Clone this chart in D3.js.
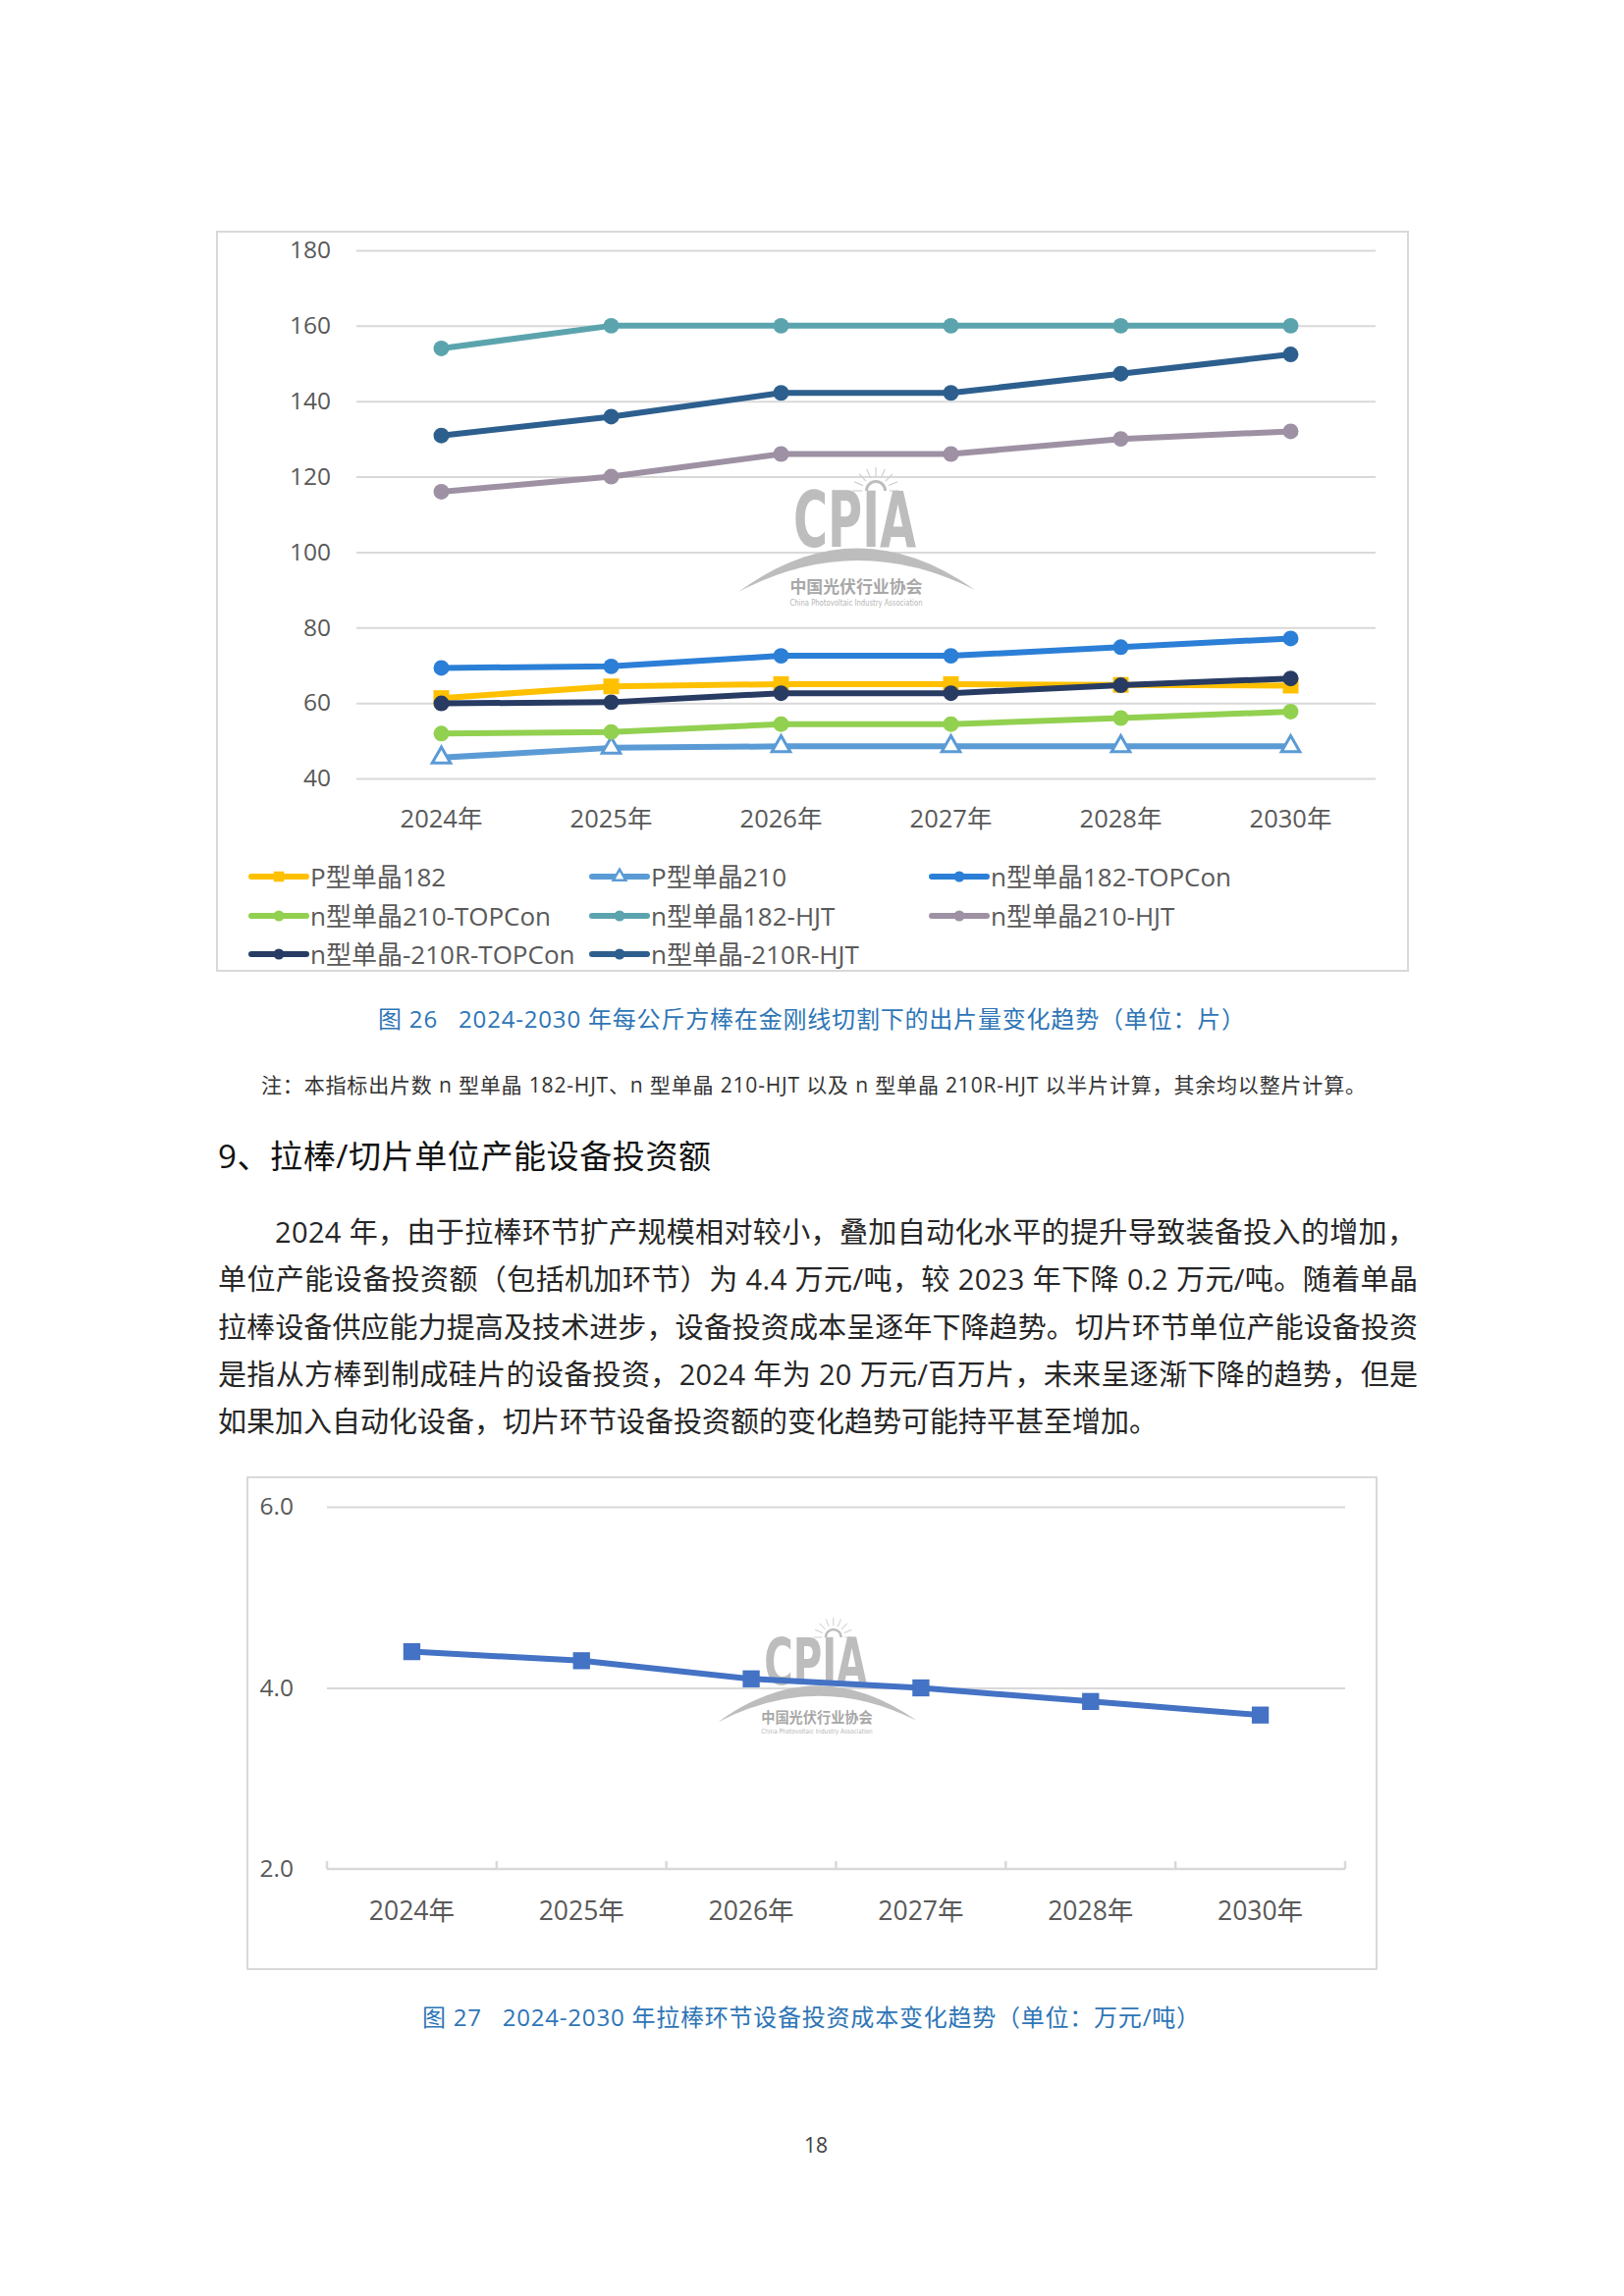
<!DOCTYPE html>
<html>
<head>
<meta charset="utf-8">
<script src="https://cdn.jsdelivr.net/npm/d3@7"></script>
<style>
html,body{margin:0;padding:0;background:#fff;}
svg{display:block;}
</style>
</head>
<body>
<script>
// ---------- DATA ----------
const years = ["2024年","2025年","2026年","2027年","2028年","2030年"];
const seriesNames = ["P型单晶182","P型单晶210","n型单晶182-TOPCon","n型单晶210-TOPCon","n型单晶182-HJT","n型单晶210-HJT","n型单晶-210R-TOPCon","n型单晶-210R-HJT"];
const p182 = [61.3, 64.4, 65.0, 65.0, 64.8, 64.6];
const p210 = [45.5, 48.1, 48.5, 48.5, 48.5, 48.5];
const n182TOPCon = [69.3, 69.7, 72.5, 72.5, 74.8, 77.1];
const n210TOPCon = [51.9, 52.3, 54.4, 54.4, 56.0, 57.7];
const n182HJT = [154, 160, 160, 160, 160, 160];
const n210HJT = [116, 120, 126, 126, 130, 132];
const n210RTOPCon = [59.9, 60.2, 62.6, 62.6, 64.7, 66.5];
const n210RHJT = [130.9, 135.9, 142.2, 142.2, 147.3, 152.4];
const yTicks1 = [40, 60, 80, 100, 120, 140, 160, 180];

const invest = [4.4, 4.3, 4.1, 4.0, 3.85, 3.7];
const yTicks2 = [2.0, 4.0, 6.0];

const seriesValues = [p182, p210, n182TOPCon, n210TOPCon, n182HJT, n210HJT, n210RTOPCon, n210RHJT];
const seriesColors = ["#FFC000","#5B9BD5","#2B7FD6","#92D050","#5BA4AE","#9E91A4","#283B63","#2D5F8E"];
const seriesMarkers = ["square","triangle","circle","circle","circle","circle","circle","circle"];

const caption1 = "图 26   2024-2030 年每公斤方棒在金刚线切割下的出片量变化趋势（单位：片）";
const note1 = "注：本指标出片数 n 型单晶 182-HJT、n 型单晶 210-HJT 以及 n 型单晶 210R-HJT 以半片计算，其余均以整片计算。";
const heading = "9、拉棒/切片单位产能设备投资额";
const paragraph = [
  "2024 年，由于拉棒环节扩产规模相对较小，叠加自动化水平的提升导致装备投入的增加，",
  "单位产能设备投资额（包括机加环节）为 4.4 万元/吨，较 2023 年下降 0.2 万元/吨。随着单晶",
  "拉棒设备供应能力提高及技术进步，设备投资成本呈逐年下降趋势。切片环节单位产能设备投资",
  "是指从方棒到制成硅片的设备投资，2024 年为 20 万元/百万片，未来呈逐渐下降的趋势，但是",
  "如果加入自动化设备，切片环节设备投资额的变化趋势可能持平甚至增加。"
];
const caption2 = "图 27   2024-2030 年拉棒环节设备投资成本变化趋势（单位：万元/吨）";
const pageNumber = "18";

// ---------- SETUP ----------
const W = 1654, H = 2339;
const FONT = "'Open Sans','Noto Sans CJK SC','Noto Sans',sans-serif";
const CJK = "'Noto Sans CJK SC','Noto Sans',sans-serif";
const svg = d3.select("body").append("svg").attr("width", W).attr("height", H)
  .attr("viewBox", `0 0 ${W} ${H}`);
svg.append("rect").attr("width", W).attr("height", H).attr("fill", "#fff");

function markerPath(type, big) {
  if (type === "square") return d3.symbol(d3.symbolSquare, big ? 256 : 110)();
  if (type === "triangle") return d3.symbol(d3.symbolTriangle, big ? 150 : 70)();
  return d3.symbol(d3.symbolCircle, big ? 200 : 95)();
}

function watermark(g) {
  const col = "#BDBDBD";
  g.append("path").attr("d", d3.arc()({innerRadius: 8, outerRadius: 11, startAngle: -Math.PI/2, endAngle: Math.PI/2}))
    .attr("transform", "translate(892,500)").attr("fill", col);
  for (let i = 0; i <= 8; i++) {
    const a = Math.PI + i * Math.PI / 8;
    g.append("line")
      .attr("x1", 892 + 14 * Math.cos(a)).attr("y1", 500 + 14 * Math.sin(a))
      .attr("x2", 892 + 24 * Math.cos(a)).attr("y2", 500 + 24 * Math.sin(a))
      .attr("stroke", "#D0D0D0").attr("stroke-width", 1.2);
  }
  g.append("text").attr("x", 808).attr("y", 557).text("CPIA")
    .attr("font-family", "'Liberation Sans Narrow','DejaVu Sans Condensed',sans-serif")
    .attr("font-weight", "bold").attr("font-size", 78)
    .attr("textLength", 125).attr("lengthAdjust", "spacingAndGlyphs")
    .attr("fill", col);
  g.append("path")
    .attr("d", "M752,603 Q872,515 993,601 Q872,540 752,603 Z")
    .attr("fill", col);
  g.append("text").attr("x", 872).attr("y", 604).attr("text-anchor", "middle")
    .text("中国光伏行业协会").attr("font-family", CJK).attr("font-weight", "bold")
    .attr("font-size", 17).attr("fill", "#A8A8A8")
    .attr("textLength", 135).attr("lengthAdjust", "spacingAndGlyphs");
  g.append("text").attr("x", 872).attr("y", 617).attr("text-anchor", "middle")
    .text("China Photovoltaic Industry Association").attr("font-family", "'Liberation Sans Narrow','DejaVu Sans Condensed',sans-serif")
    .attr("font-size", 8).attr("fill", "#B5B5B5")
    .attr("textLength", 135).attr("lengthAdjust", "spacingAndGlyphs");
}

// ---------- CHART 1 ----------
const c1 = svg.append("g");
c1.append("rect").attr("x", 221).attr("y", 236).attr("width", 1213).attr("height", 753)
  .attr("fill", "#fff").attr("stroke", "#D9D9D9").attr("stroke-width", 2);

const x1 = d3.scaleBand().domain(years).range([363, 1401]);
const cx1 = d => x1(d) + x1.bandwidth() / 2;
const y1 = d3.scaleLinear().domain([40, 180]).range([793, 255]);

const yAxis1 = c1.append("g").attr("transform", "translate(363,0)")
  .call(d3.axisLeft(y1).tickValues(yTicks1).tickSize(-(1401 - 363)).tickPadding(26).tickFormat(d3.format("d")));
yAxis1.select(".domain").remove();
yAxis1.selectAll(".tick line").attr("stroke", "#D9D9D9").attr("stroke-width", 2);
yAxis1.selectAll(".tick text").attr("font-family", FONT).attr("font-size", 24.5).attr("fill", "#595959");

watermark(c1.append("g"));

c1.append("g").selectAll("text").data(years).join("text")
  .attr("x", d => cx1(d)).attr("y", 843).attr("text-anchor", "middle")
  .attr("font-family", FONT).attr("font-size", 25.5).attr("fill", "#595959").text(d => d);

const line1 = d3.line().x((d, i) => cx1(years[i])).y(d => y1(d));
seriesValues.forEach((vals, si) => {
  const g = c1.append("g");
  g.append("path").attr("d", line1(vals)).attr("fill", "none")
    .attr("stroke", seriesColors[si]).attr("stroke-width", 6).attr("stroke-linejoin", "round");
  g.selectAll("path.m").data(vals).join("path").attr("class", "m")
    .attr("d", markerPath(seriesMarkers[si], true))
    .attr("transform", (d, i) => `translate(${cx1(years[i])},${y1(d)})`)
    .attr("fill", seriesMarkers[si] === "triangle" ? "#fff" : seriesColors[si])
    .attr("stroke", seriesMarkers[si] === "triangle" ? seriesColors[si] : "none")
    .attr("stroke-width", 3);
});

// legend
const legCols = [256, 603, 949];
const legRows = [893, 933, 972];
seriesNames.forEach((name, si) => {
  const lx = legCols[si % 3], ly = legRows[Math.floor(si / 3)];
  const g = c1.append("g");
  g.append("line").attr("x1", lx).attr("x2", lx + 56).attr("y1", ly).attr("y2", ly)
    .attr("stroke", seriesColors[si]).attr("stroke-width", 6).attr("stroke-linecap", "round");
  g.append("path").attr("d", markerPath(seriesMarkers[si], false))
    .attr("transform", `translate(${lx + 28},${ly})`)
    .attr("fill", seriesMarkers[si] === "triangle" ? "#fff" : seriesColors[si])
    .attr("stroke", seriesMarkers[si] === "triangle" ? seriesColors[si] : "none")
    .attr("stroke-width", 2.5);
  g.append("text").attr("x", lx + 60).attr("y", ly + 9.5).text(name)
    .attr("font-family", FONT).attr("font-size", 26).attr("fill", "#595959");
});

// ---------- TEXT ----------
svg.append("text").attr("x", 385).attr("y", 1047).text(caption1)
  .style("white-space", "pre").attr("font-family", FONT).attr("font-size", 24).attr("fill", "#2E75B6")
  .attr("textLength", 883).attr("lengthAdjust", "spacing");
svg.append("text").attr("x", 266).attr("y", 1113).text(note1)
  .style("white-space", "pre").attr("font-family", FONT).attr("font-size", 21).attr("fill", "#333")
  .attr("textLength", 1125).attr("lengthAdjust", "spacing");
svg.append("text").attr("x", 222).attr("y", 1190).text(heading)
  .attr("font-family", FONT).attr("font-size", 33).attr("fill", "#111")
  .attr("textLength", 502).attr("lengthAdjust", "spacing");
const paraY = [1266, 1314, 1363, 1411, 1459];
paragraph.forEach((t, i) => {
  const tx = svg.append("text").attr("x", i === 0 ? 280 : 222).attr("y", paraY[i]).text(t)
    .style("white-space", "pre").attr("font-family", FONT).attr("font-size", 29).attr("fill", "#262626");
  if (i < 4) tx.attr("textLength", i === 0 ? 1162 : 1222).attr("lengthAdjust", "spacing");
});

// ---------- CHART 2 ----------
const c2 = svg.append("g");
c2.append("rect").attr("x", 252).attr("y", 1505).attr("width", 1150).attr("height", 501)
  .attr("fill", "#fff").attr("stroke", "#D9D9D9").attr("stroke-width", 2);
const x2 = d3.scaleBand().domain(years).range([333, 1370]);
const cx2 = d => x2(d) + x2.bandwidth() / 2;
const y2 = d3.scaleLinear().domain([2, 6]).range([1904, 1535]);

const yAxis2 = c2.append("g").attr("transform", "translate(333,0)")
  .call(d3.axisLeft(y2).tickValues(yTicks2).tickSize(-(1370 - 333)).tickPadding(34).tickFormat(d3.format(".1f")));
yAxis2.select(".domain").remove();
yAxis2.selectAll(".tick line").attr("stroke", (d) => d === 2 ? "none" : "#D9D9D9").attr("stroke-width", 2);
yAxis2.selectAll(".tick text").attr("font-family", FONT).attr("font-size", 24.5).attr("fill", "#595959");

const xAxis2 = c2.append("g").attr("transform", `translate(0,${y2(2)})`);
xAxis2.append("line").attr("x1", 333).attr("x2", 1370).attr("y1", 0).attr("y2", 0)
  .attr("stroke", "#D9D9D9").attr("stroke-width", 2.5);
const bounds = years.map(d => x2(d)).concat([x2(years[years.length - 1]) + x2.bandwidth()]);
xAxis2.selectAll("line.tk").data(bounds).join("line").attr("class", "tk")
  .attr("x1", d => d).attr("x2", d => d).attr("y1", 0).attr("y2", -8)
  .attr("stroke", "#D9D9D9").attr("stroke-width", 2.5);
c2.append("g").selectAll("text").data(years).join("text")
  .attr("x", d => cx2(d)).attr("y", 1956).attr("text-anchor", "middle")
  .attr("font-family", FONT).attr("font-size", 26.5).attr("fill", "#595959").text(d => d);

watermark(c2.append("g").attr("transform", "translate(99.5,1248) scale(0.84)"));

const line2 = d3.line().x((d, i) => cx2(years[i])).y(d => y2(d));
c2.append("path").attr("d", line2(invest)).attr("fill", "none")
  .attr("stroke", "#4472C4").attr("stroke-width", 6).attr("stroke-linejoin", "round");
c2.selectAll("path.m2").data(invest).join("path").attr("class", "m2")
  .attr("d", d3.symbol(d3.symbolSquare, 300)())
  .attr("transform", (d, i) => `translate(${cx2(years[i])},${y2(d)})`)
  .attr("fill", "#4472C4");

svg.append("text").attr("x", 430).attr("y", 2064).text(caption2)
  .style("white-space", "pre").attr("font-family", FONT).attr("font-size", 24).attr("fill", "#2E75B6")
  .attr("textLength", 792).attr("lengthAdjust", "spacing");
svg.append("text").attr("x", 831).attr("y", 2193).attr("text-anchor", "middle").text(pageNumber)
  .attr("font-family", FONT).attr("font-size", 21).attr("fill", "#404040");
</script>
</body>
</html>
